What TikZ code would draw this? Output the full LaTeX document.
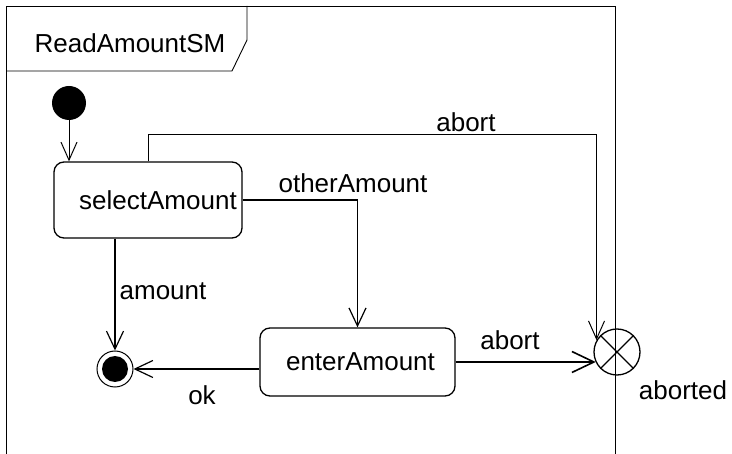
\documentclass[tikz,border=0pt]{standalone}
\usepackage{fontspec}
\setmainfont{Liberation Sans}
\usetikzlibrary{arrows.meta,calc}
\begin{document}
\begin{tikzpicture}[x=1pt,y=-1pt,
  every node/.style={font=\fontsize{26}{30}\selectfont},
  framel/.style={line width=0.9pt},
  state/.style={draw, line width=1.3pt, rounded corners=10pt, inner sep=0pt},
  trans/.style={line width=1.6pt, -{Straight Barb[length=18pt,width=17pt,line width=1.2pt]}},
  thintrans/.style={line width=1pt, -{Straight Barb[length=18pt,width=16pt,line width=1pt]}},
  bigtrans/.style={line width=1.8pt, -{Straight Barb[length=22pt,width=21pt,line width=1.6pt]}},
  lbl/.style={inner sep=0pt}
]
\useasboundingbox (0,0) rectangle (732,454);
% frame
\draw[framel] (6,454) -- (6,6) -- (615,6) -- (615,454);
\draw[framel] (6,71) -- (232,71) -- (247,40) -- (247,6);
\node[lbl] (title) at (130,43) {ReadAmountSM};
% states
\node[state, minimum width=188pt, minimum height=76pt] (select) at (148,200) {\hspace*{20pt}selectAmount};
\node[state, minimum width=195pt, minimum height=68pt] (enter) at (357.5,362) {\hspace*{6pt}enterAmount};
\node[circle, fill, inner sep=0pt, minimum size=34pt] (init) at (69,103) {};
\node[circle, draw, line width=1pt, inner sep=0pt, minimum size=36pt] (final) at (115,369) {};
\node[circle, fill, inner sep=0pt, minimum size=26pt] (finalin) at (115,369) {};
\node[circle, draw, line width=1.3pt, inner sep=0pt, minimum size=46pt] (aborted) at (617,352) {};
\draw[line width=1.3pt] (aborted.45) -- (aborted.225);
\draw[line width=1.3pt] (aborted.135) -- (aborted.315);
\node[lbl] (abortedlbl) at (683,390) {aborted};
% transitions
\draw[thintrans] (init.south) -- (init.south |- select.north);
\draw[thintrans] (select.north) -- ++(0,-27) -| (aborted.150);
\node[lbl] (abort1) at (466,122) {abort};
\draw[trans] (select.east) -| (enter.north);
\node[lbl] (other) at (353,183) {otherAmount};
\draw[trans] (final.north |- select.south) -- (final.north);
\node[lbl] (amount) at (163,291) {amount};
\draw[trans] (enter.west |- final.east) -- (final.east);
\node[lbl] (ok) at (202,395) {ok};
\draw[bigtrans] (enter.east) -- (enter.east -| aborted.206);
\node[lbl] (abort2) at (510,340) {abort};
\end{tikzpicture}
\end{document}
